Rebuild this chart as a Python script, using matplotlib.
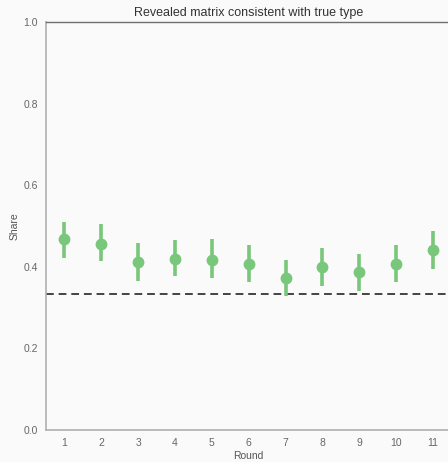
import numpy as np
import matplotlib
matplotlib.use("Agg")
import matplotlib.pyplot as plt

plt.rcParams['font.family'] = ['Liberation Sans', 'DejaVu Sans']

# share of revealed matrices consistent with the true type, per round
rounds = [1, 2, 3, 4, 5, 6, 7, 8, 9, 10, 11]
share = [0.467, 0.457, 0.411, 0.420, 0.417, 0.408, 0.373, 0.400, 0.386, 0.407, 0.441]
ci_low = [0.421, 0.413, 0.366, 0.377, 0.372, 0.362, 0.328, 0.354, 0.341, 0.362, 0.395]
ci_high = [0.510, 0.506, 0.459, 0.466, 0.468, 0.453, 0.417, 0.447, 0.431, 0.454, 0.488]
chance = 1 / 3

bg = '#fafafa'
green = '#78c77a'

fig = plt.figure(figsize=(4.48, 4.62), dpi=100, facecolor=bg)
ax = fig.add_axes([0.1027, 0.0693, 0.905, 0.8831], facecolor=bg)

x = np.arange(len(rounds))
share = np.array(share)
yerr = [share - np.array(ci_low), np.array(ci_high) - share]

ax.axhline(chance, color='#444444', linestyle='--', linewidth=1.4, dashes=(4, 2.5), zorder=1)
ax.errorbar(x, share, yerr=yerr, fmt='o', color=green, ecolor=green,
            elinewidth=2.6, markersize=7.5, capsize=0, zorder=3)

ax.set_xlim(-0.5, len(rounds) - 0.5)
ax.set_ylim(0, 1)
ax.set_xticks(x)
ax.set_xticklabels([str(r) for r in rounds])
ax.set_yticks([0.0, 0.2, 0.4, 0.6, 0.8, 1.0])
ax.set_yticklabels(['0.0', '0.2', '0.4', '0.6', '0.8', '1.0'])
ax.tick_params(axis='x', length=0, labelsize=7.5, labelcolor='#666666', pad=6)
ax.tick_params(axis='y', length=0, labelsize=7.5, labelcolor='#666666', pad=6)

ax.set_xlabel('Round', fontsize=7.5, color='#555555', labelpad=2)
ax.set_ylabel('Share', fontsize=7.5, color='#555555', labelpad=2.5)
ax.set_title('Revealed matrix consistent with true type', fontsize=9, color='#333333', pad=4)

for side in ['left', 'bottom']:
    ax.spines[side].set_color('#b0b0b0')
    ax.spines[side].set_linewidth(1.2)
ax.spines['top'].set_color('#707070')
ax.spines['top'].set_linewidth(1.0)
ax.spines['right'].set_visible(False)

fig.savefig('out.png', dpi=100, facecolor=bg)
